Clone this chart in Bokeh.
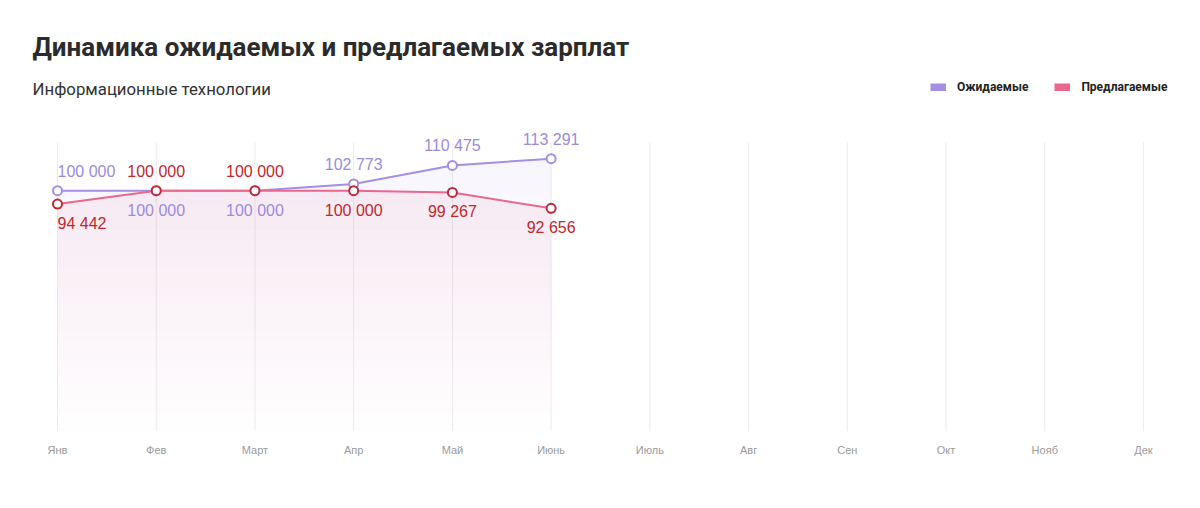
from bokeh.plotting import figure
from bokeh.models import Range1d, Label, Legend, LegendItem, FixedTicker
from bokeh.core.properties import value
from bokeh.embed import file_html
from bokeh.resources import INLINE

# Data
months = ["Янв", "Фев", "Март", "Апр", "Май", "Июнь", "Июль", "Авг", "Сен", "Окт", "Нояб", "Дек"]
expected = [100000, 100000, 100000, 102773, 110475, 113291]
offered = [94442, 100000, 100000, 100000, 99267, 92656]
series_names = ["Ожидаемые", "Предлагаемые"]
title_text = "Динамика ожидаемых и предлагаемых зарплат"
subtitle_text = "Информационные технологии"
y_top = 120000

PURPLE = "#a48fe4"
PURPLE_TEXT = "#9b8bdc"
PINK = "#e9688d"
RED = "#c0283a"
RED_TEXT = "#c1272d"
LABEL_FONT = "Liberation Sans"

# plot area: months 57px..1143px across, value 0 at y=431, y_top at y=142
W, H = 1200, 508
step = (1143 - 57) / (len(months) - 1)
pad = 57 / step
per_px = y_top / (431 - 142)

p = figure(
    width=W,
    height=H,
    x_range=Range1d(-pad, len(months) - 1 + pad),
    y_range=Range1d(0, y_top + 142 * per_px),
    output_backend="svg",
    toolbar_location=None,
    tools="",
    min_border_left=0,
    min_border_right=0,
    min_border_top=0,
    min_border_bottom=H - 431,
)

xs = list(range(len(expected)))

# vertical grid lines, only over the value range
p.segment(x0=list(range(len(months))), y0=0, x1=list(range(len(months))), y1=y_top,
          line_color="#ececec", line_width=1)


def gradient_fill(vals, color, a_top, a_bottom, n=30):
    # vertical gradient made of thin horizontal bands
    top = max(vals)
    for k in range(n):
        lo = top * k / n
        hi = top * (k + 1) / n
        y1 = [min(v, lo) for v in vals]
        y2 = [min(v, hi) for v in vals]
        a = a_bottom + (a_top - a_bottom) * (k + 0.5) / n
        p.varea(x=xs, y1=y1, y2=y2, fill_color=color, fill_alpha=a)


gradient_fill(expected, PURPLE, 0.08, 0.0)
gradient_fill(offered, PINK, 0.09, 0.005)

# lines and markers
p.line(xs, expected, line_color=PURPLE, line_width=2)
p.line(xs, offered, line_color=PINK, line_width=2)
p.scatter(xs, expected, size=9, fill_color="white", line_color=PURPLE, line_width=2)
p.scatter(xs, offered, size=9, fill_color="white", line_color=RED, line_width=2)


def fmt(v):
    return f"{v:,}".replace(",", " ")


# data labels: the higher series gets its label above the point
def add_labels(vals, other, color, wins_ties):
    for i, v in enumerate(vals):
        above = v > other[i] or (v == other[i] and wins_ties)
        p.text(
            x=[i], y=[v], text=[fmt(v)],
            y_offset=-11 if above else 11,
            text_align="left" if i == 0 else "center",
            text_baseline="bottom" if above else "top",
            text_color=color,
            text_font=value(LABEL_FONT),
            text_font_size="16px",
        )


add_labels(expected, offered, PURPLE_TEXT, False)
add_labels(offered, expected, RED_TEXT, True)

# axes
p.yaxis.visible = False
p.xaxis.ticker = FixedTicker(ticks=list(range(len(months))))
p.xaxis.major_label_overrides = {i: m for i, m in enumerate(months)}
p.xaxis.axis_line_color = None
p.xaxis.major_tick_line_color = None
p.xaxis.minor_tick_line_color = None
p.xaxis.major_tick_in = 0
p.xaxis.major_tick_out = 0
p.xaxis.major_label_standoff = 12
p.xaxis.major_label_text_font = LABEL_FONT
p.xaxis.major_label_text_font_size = "11px"
p.xaxis.major_label_text_color = "#9a9a9a"
p.xgrid.grid_line_color = None
p.ygrid.grid_line_color = None
p.outline_line_color = None

# title and subtitle
p.add_layout(Label(
    x=32, y=431 - 46, x_units="screen", y_units="screen", text=title_text,
    text_font="Roboto", text_font_style="bold", text_font_size="26px",
    text_color="#2b2b2b", text_baseline="middle",
))
p.add_layout(Label(
    x=32, y=431 - 88, x_units="screen", y_units="screen", text=subtitle_text,
    text_font="Roboto", text_font_size="16.8px",
    text_color="#333333", text_baseline="middle",
))

# legend: hidden thick lines used only as swatches
sw1 = p.line(xs, expected, line_color=PURPLE, line_width=8, visible=False)
sw2 = p.line(xs, offered, line_color=PINK, line_width=8, visible=False)
legend = Legend(
    items=[LegendItem(label=series_names[0], renderers=[sw1]),
           LegendItem(label=series_names[1], renderers=[sw2])],
    orientation="horizontal",
    location=(930, 431 - 94),
    glyph_width=16,
    glyph_height=8,
    label_standoff=11,
    spacing=26,
    padding=0,
    margin=0,
    border_line_color=None,
    background_fill_alpha=0,
    inactive_fill_alpha=0,
    click_policy="none",
    label_text_font="Roboto",
    label_text_font_style="bold",
    label_text_font_size="12px",
    label_text_color="#222222",
)
p.add_layout(legend)

open("out.html", "w").write(file_html(p, INLINE))
